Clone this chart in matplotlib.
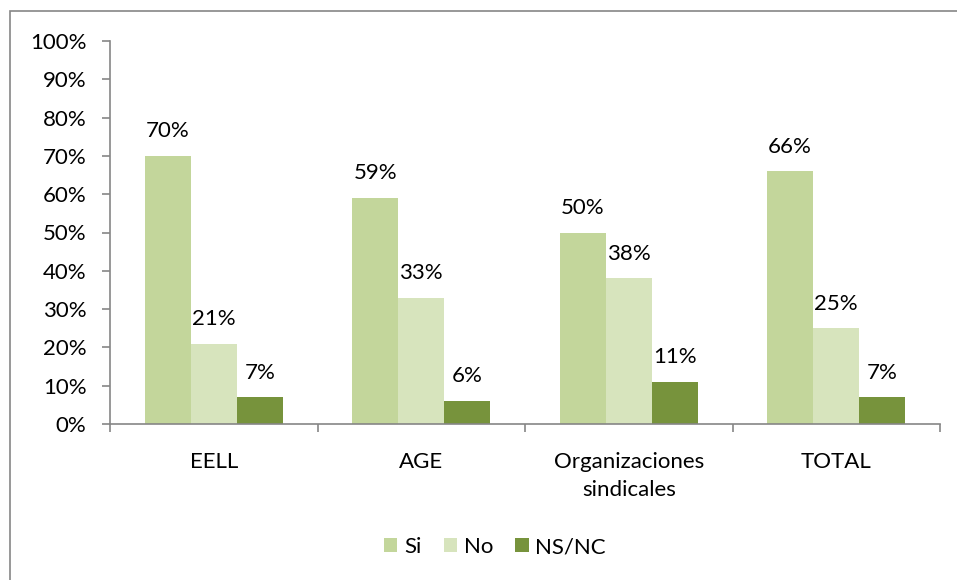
import matplotlib
matplotlib.use('Agg')
import matplotlib.pyplot as plt
import numpy as np
from matplotlib.patches import Rectangle

categories = ['EELL', 'AGE', 'Organizaciones\nsindicales', 'TOTAL']
series = ['Si', 'No', 'NS/NC']
si = [70, 59, 50, 66]
no = [21, 33, 38, 25]
nsnc = [7, 6, 11, 7]
colors = ['#C3D69B', '#D7E4BD', '#77933C']

plt.rcParams['font.family'] = ['Lato', 'DejaVu Sans']
grey = '#868686'
fs = 16

fig = plt.figure(figsize=(9.57, 5.8), dpi=100)
ax = fig.add_axes([110 / 957, 1 - 424 / 580, 830 / 957, 383 / 580])

x = np.arange(len(categories))
w = 2 / 9
for i, (vals, name) in enumerate(zip([si, no, nsnc], series)):
    pos = x + (i - 1) * w
    ax.bar(pos, vals, width=w, color=colors[i], label=name, zorder=2)
    for p, v in zip(pos, vals):
        ax.annotate('%d%%' % v, (p, v), xytext=(0, 10.5), textcoords='offset points',
                    ha='center', va='bottom', fontsize=fs, color='black')

ax.set_xlim(-0.5, len(categories) - 0.5)
ax.set_ylim(0, 100)
ax.set_yticks(np.arange(0, 101, 10))
ax.set_yticklabels(['%d%%' % t for t in range(0, 101, 10)])
ax.set_xticks(x)
ax.set_xticklabels(categories, linespacing=1.5, va='top')
ax.set_xticks(np.arange(len(categories) + 1) - 0.5, minor=True)

for s in ['top', 'right']:
    ax.spines[s].set_visible(False)
for s in ['left', 'bottom']:
    ax.spines[s].set_color(grey)
    ax.spines[s].set_linewidth(1.2)

ax.tick_params(axis='y', length=6, width=1.2, color=grey, labelsize=fs, pad=11)
ax.tick_params(axis='x', which='major', length=0, labelsize=fs, pad=20)
ax.tick_params(axis='x', which='minor', length=6, width=1.2, color=grey)

fig.legend(loc='center', bbox_to_anchor=(495 / 957, 1 - 547 / 580), ncol=3,
           frameon=False, fontsize=fs, handlelength=0.6, handleheight=0.6,
           handletextpad=0.3, columnspacing=1.0)

fig.patches.append(Rectangle((10 / 957, -0.1), 1.2, 1.1 - 11 / 580, fill=False,
                             edgecolor=grey, linewidth=1.2, transform=fig.transFigure))

fig.savefig('out.png', dpi=100)
